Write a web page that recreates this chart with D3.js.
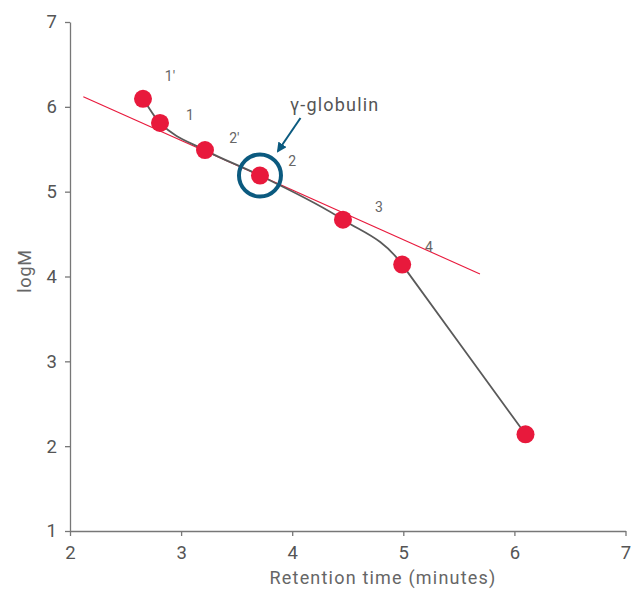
<!DOCTYPE html>
<html><head><meta charset="utf-8">
<script src="https://cdn.jsdelivr.net/npm/d3@7"></script>
<style>body{margin:0;background:#fff}text{font-family:Roboto,"Liberation Sans",sans-serif}</style>
</head><body><svg id="c" width="635" height="589"></svg>
<script>
const retention = [2.657, 2.81, 3.215, 3.71, 4.457, 4.99, 6.10];
const logM = [6.094, 5.81, 5.49, 5.19, 4.67, 4.14, 2.14];
const pointLabels = ["1′", "1", "2′", "2", "3", "4"];
const labelX = [2.9, 3.08, 3.48, 4.0, 4.78, 5.23];
const labelY = [6.3, 5.85, 5.57, 5.3, 4.76, 4.29];
const fitX = [2.12, 5.69];
const fitY = [6.12, 4.03];
const xTicks = [2, 3, 4, 5, 6, 7];
const yTicks = [1, 2, 3, 4, 5, 6, 7];
const highlightIndex = 3;

const svg = d3.select("#c");
const x = d3.scaleLinear().domain([2, 7]).range([70, 625.5]);
const y = d3.scaleLinear().domain([1, 7]).range([531, 22]);
const grey = "#5a5a5a", red = "#e8193c", blue = "#0b5a7f";

const xa = svg.append("g").attr("transform", `translate(0,${y(1)})`)
  .call(d3.axisBottom(x).tickValues(xTicks).tickFormat(d3.format("d")).tickSize(5).tickSizeOuter(0).tickPadding(10));
const ya = svg.append("g").attr("transform", `translate(${x(2)},0)`)
  .call(d3.axisLeft(y).tickValues(yTicks).tickFormat(d3.format("d")).tickSize(5).tickSizeOuter(0).tickPadding(8));
[xa, ya].forEach(a => {
  a.select(".domain").attr("stroke", "#777").attr("stroke-width", 1.3);
  a.selectAll(".tick line").attr("stroke", "#777").attr("stroke-width", 1.3);
  a.selectAll("text").attr("fill", "#555").attr("font-size", 18.5);
});

svg.append("text").attr("x", 383).attr("y", 584).attr("text-anchor", "middle")
  .attr("fill", "#666").attr("font-size", 18).attr("letter-spacing", 1.2).text("Retention time (minutes)");
svg.append("text").attr("transform", `translate(31,${271}) rotate(-90)`).attr("text-anchor", "middle")
  .attr("fill", "#666").attr("font-size", 18).attr("letter-spacing", 0.8).text("logM");

// fit line
svg.append("line").attr("x1", x(fitX[0])).attr("y1", y(fitY[0]))
  .attr("x2", x(fitX[1])).attr("y2", y(fitY[1])).attr("stroke", red).attr("stroke-width", 1.1);

// smooth curve through points; straight final segment
const P = retention.map((d, i) => [x(d), y(logM[i])]);
const n = P.length;
const sec = d3.range(n - 1).map(i => (P[i + 1][1] - P[i][1]) / (P[i + 1][0] - P[i][0]));
const m = P.map((p, i) => i === 0 ? sec[0] : (i >= n - 2 ? sec[n - 2] : (sec[i - 1] + sec[i]) / 2));
const path = d3.path();
path.moveTo(P[0][0], P[0][1]);
for (let i = 0; i < n - 1; i++) {
  const h = (P[i + 1][0] - P[i][0]) / 3;
  path.bezierCurveTo(P[i][0] + h, P[i][1] + m[i] * h, P[i + 1][0] - h, P[i + 1][1] - m[i + 1] * h, P[i + 1][0], P[i + 1][1]);
}
svg.append("path").attr("d", path.toString())
  .attr("fill", "none").attr("stroke", grey).attr("stroke-width", 1.8);

svg.selectAll("circle.pt").data(P).join("circle").attr("class", "pt")
  .attr("cx", d => d[0]).attr("cy", d => d[1]).attr("r", 9).attr("fill", red);

svg.append("circle").attr("cx", x(retention[highlightIndex])).attr("cy", y(logM[highlightIndex]))
  .attr("r", 21).attr("fill", "none").attr("stroke", blue).attr("stroke-width", 4);

labelX.forEach((lx, i) => {
  svg.append("text").attr("x", x(lx)).attr("y", y(labelY[i])).attr("text-anchor", "middle")
    .attr("fill", "#666").attr("font-size", 14).text(pointLabels[i]);
});

// annotation
svg.append("defs").append("marker").attr("id", "ah").attr("viewBox", "0 0 10 10")
  .attr("refX", 8).attr("refY", 5).attr("markerWidth", 5).attr("markerHeight", 5)
  .attr("orient", "auto").append("path").attr("d", "M0,0 L10,5 L0,10 z").attr("fill", blue);
svg.append("line").attr("x1", 300.5).attr("y1", 118).attr("x2", 278).attr("y2", 151)
  .attr("stroke", blue).attr("stroke-width", 2).attr("marker-end", "url(#ah)");
svg.append("text").attr("x", 290).attr("y", 111).attr("fill", "#555").attr("font-size", 18).attr("letter-spacing", 1.2).text("γ-globulin");
</script></body></html>
